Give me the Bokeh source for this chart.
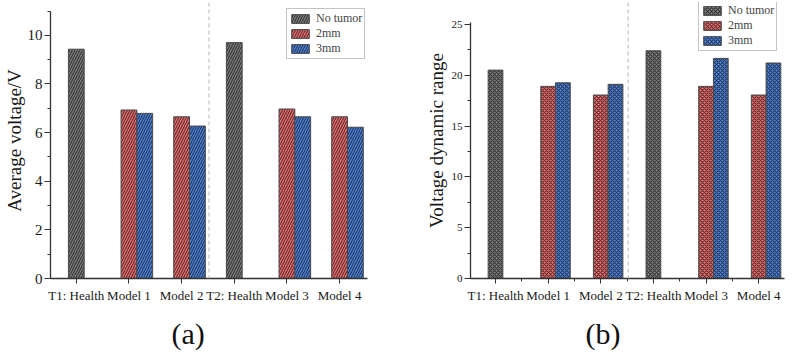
import numpy as np
from bokeh.plotting import figure
from bokeh.layouts import row
from bokeh.models import (ColumnDataSource, FixedTicker, SingleIntervalTicker, Span,
                          Legend, LegendItem, Title, Range1d)
from bokeh.embed import file_html
from bokeh.resources import INLINE

nan = np.nan
categories = ["T1: Health", "Model 1", "Model 2", "T2: Health", "Model 3", "Model 4"]
series_names = ["No tumor", "2mm", "3mm"]

avg_no_tumor = [9.43, nan, nan, 9.70, nan, nan]
avg_2mm = [nan, 6.93, 6.65, nan, 6.97, 6.65]
avg_3mm = [nan, 6.79, 6.27, nan, 6.65, 6.22]

dyn_no_tumor = [20.5, nan, nan, 22.4, nan, nan]
dyn_2mm = [nan, 18.9, 18.05, nan, 18.9, 18.05]
dyn_3mm = [nan, 19.25, 19.1, nan, 21.65, 21.2]

FONT = "Liberation Serif"
COLORS = ["#7c7c7c", "#f06a6c", "#4a82e0"]


def make_panel(vals, ylim, ybounds, yticker, xr, width_bar, hatch, hscale, tick_font,
               ylabel, ylabel_standoff, letter, letter_offset, borders, x_minor,
               leg_loc, xfont):
    left, right, top, bottom = borders
    p = figure(width=400, height=358, output_backend="svg", toolbar_location=None,
               x_range=Range1d(*xr), y_range=Range1d(*ylim),
               min_border_left=left, min_border_right=right,
               min_border_top=top, min_border_bottom=bottom)
    p.outline_line_color = None
    p.xgrid.visible = False
    p.ygrid.visible = False
    p.background_fill_color = "white"
    p.border_fill_color = "white"

    idx = np.arange(len(categories))
    offsets = [0.0, 0.0, width_bar]
    items = []
    for name, v, off, col in zip(series_names, vals, offsets, COLORS):
        src = ColumnDataSource(dict(x=idx + off, top=v))
        r = p.vbar(x="x", top="top", width=width_bar, bottom=0, source=src,
                   fill_color=col, line_color="#4a4a4a", line_width=1,
                   hatch_pattern=hatch, hatch_color="#1a1a1a", hatch_alpha=0.7,
                   hatch_scale=hscale, hatch_weight=1.1)
        items.append(LegendItem(label=name, renderers=[r]))

    p.add_layout(Span(location=2.52, dimension="height", line_color="#b5b5b5",
                      line_dash="4 3", line_width=1))

    leg = Legend(items=items, location=leg_loc, border_line_color="#8a8a8a",
                 border_line_width=1, background_fill_color="white",
                 label_text_font=FONT, label_text_font_size="12px",
                 glyph_width=22, glyph_height=11, label_height=11,
                 spacing=0, padding=2, margin=0, label_standoff=5)
    p.add_layout(leg, "center")

    xa = p.xaxis[0]
    xa.ticker = FixedTicker(ticks=list(idx), minor_ticks=x_minor)
    xa.major_label_overrides = {int(i): c for i, c in zip(idx, categories)}
    xa.major_label_text_font = FONT
    xa.major_label_text_font_size = xfont
    xa.major_label_text_color = "#1a1a1a"
    xa.major_tick_in = 0
    xa.major_tick_out = 5
    xa.minor_tick_in = 0
    xa.minor_tick_out = 3
    xa.axis_line_color = "#333333"
    xa.major_tick_line_color = "#333333"
    xa.minor_tick_line_color = "#333333"
    xa.axis_line_width = 1.3
    xa.major_label_standoff = 4

    ya = p.yaxis[0]
    ya.ticker = yticker
    ya.bounds = ybounds
    ya.major_label_text_font = FONT
    ya.major_label_text_font_size = tick_font
    ya.major_label_text_color = "#1a1a1a"
    ya.major_tick_in = 0
    ya.major_tick_out = 6
    ya.minor_tick_in = 0
    ya.minor_tick_out = 3
    ya.axis_line_color = "#333333"
    ya.major_tick_line_color = "#333333"
    ya.minor_tick_line_color = "#333333"
    ya.axis_line_width = 1.3
    ya.major_label_standoff = 2
    ya.axis_label = ylabel
    ya.axis_label_text_font = FONT
    ya.axis_label_text_font_size = "19px"
    ya.axis_label_text_font_style = "normal"
    ya.axis_label_text_color = "#1a1a1a"
    ya.axis_label_standoff = ylabel_standoff

    p.add_layout(Title(text=letter, align="left", offset=letter_offset,
                       text_font=FONT, text_font_size="30px", text_font_style="normal",
                       text_color="#111111", standoff=18), "below")
    return p


pa = make_panel([avg_no_tumor, avg_2mm, avg_3mm], (0, 11.35), (0, 11),
                SingleIntervalTicker(interval=2, num_minor_ticks=2),
                (-0.49, 5.53), 0.30, "/", 5, "15px", "Average voltage/V", 0,
                "(a)", 121, (47, 33, 2, 79), [], (236, 219), "13px")

pb = make_panel([dyn_no_tumor, dyn_2mm, dyn_3mm], (0, 27.15), (0, 25.2),
                SingleIntervalTicker(interval=5, num_minor_ticks=2),
                (-0.475, 5.49), 0.28, "x", 4, "11px", "Voltage dynamic range", 2,
                "(b)", 115, (70, 16, 2, 79), [0.5, 1.5, 2.5, 3.5, 4.5], (228, 227),
                "13px")

layout = row(pa, pb)
open("out.html", "w").write(file_html(layout, INLINE))
